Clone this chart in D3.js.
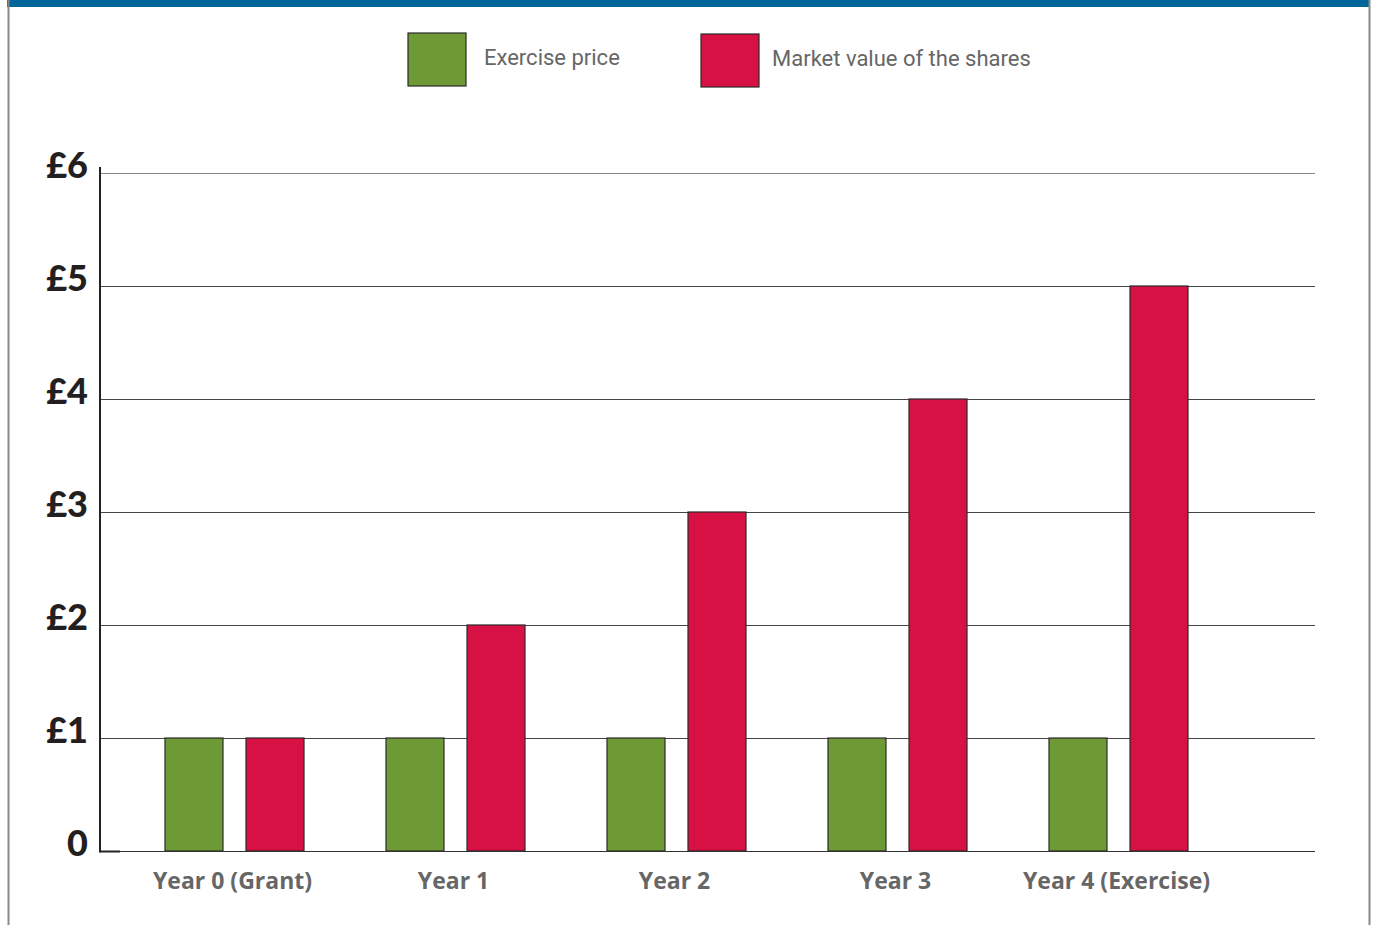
<!DOCTYPE html>
<html><head><meta charset="utf-8">
<script src="https://cdn.jsdelivr.net/npm/d3@7"></script>
<style>html,body{margin:0;padding:0;background:#fff;}svg{display:block;}</style>
</head><body>
<svg id="chart" width="1375" height="925"></svg>
<script>
const categories = ["Year 0 (Grant)", "Year 1", "Year 2", "Year 3", "Year 4 (Exercise)"];
const exercisePrice = [1, 1, 1, 1, 1];
const marketValue = [1, 2, 3, 4, 5];
const seriesNames = ["Exercise price", "Market value of the shares"];
const yTickValues = [0, 1, 2, 3, 4, 5, 6];
const yTickLabels = ["0", "£1", "£2", "£3", "£4", "£5", "£6"];
const colors = ["#6e9a35", "#d81145"];

const svg = d3.select("#chart");
const rows = categories.map((c, i) => ({cat: c, vals: [exercisePrice[i], marketValue[i]]}));

// frame
svg.append("rect").attr("x", 7).attr("y", 0).attr("width", 1363).attr("height", 7).attr("fill", "#006699");
svg.append("line").attr("x1", 8.5).attr("x2", 8.5).attr("y1", 0).attr("y2", 925).attr("stroke", "#888").attr("stroke-width", 2);
svg.append("line").attr("x1", 1369.5).attr("x2", 1369.5).attr("y1", 0).attr("y2", 925).attr("stroke", "#888").attr("stroke-width", 2);

const y = d3.scaleLinear().domain([0, 6]).range([851, 173]);
const x0 = d3.scaleBand().domain(categories).range([124, 1229]).paddingInner(0.371).paddingOuter(0.1855);
const x1 = d3.scaleBand().domain([0, 1]).range([0, x0.bandwidth()]).paddingInner(0.284);

// gridlines
svg.append("g").selectAll("line").data(yTickValues.filter(v => v > 0)).join("line")
  .attr("x1", 100).attr("x2", 1315)
  .attr("y1", d => Math.round(y(d)) + 0.5).attr("y2", d => Math.round(y(d)) + 0.5)
  .attr("stroke", d => d === 6 ? "#888" : "#444").attr("stroke-width", 1);

// bars
const g = svg.append("g").selectAll("g").data(rows).join("g")
  .attr("transform", d => `translate(${x0(d.cat)},0)`);
g.selectAll("rect").data(d => d.vals.map((v, k) => ({v, k}))).join("rect")
  .attr("x", d => x1(d.k)).attr("width", x1.bandwidth())
  .attr("y", d => y(d.v)).attr("height", d => y(0) - y(d.v))
  .attr("fill", d => colors[d.k]).attr("stroke", "#2a2a2a").attr("stroke-width", 1.2);

// baseline
svg.append("line").attr("x1", 100).attr("x2", 1315).attr("y1", 851.5).attr("y2", 851.5).attr("stroke", "#333").attr("stroke-width", 1.2);
svg.append("line").attr("x1", 100).attr("x2", 120).attr("y1", 851.5).attr("y2", 851.5).attr("stroke", "#222").attr("stroke-width", 2);
// y axis line
svg.append("line").attr("x1", 100).attr("x2", 100).attr("y1", 167).attr("y2", 852.5).attr("stroke", "#222").attr("stroke-width", 2);

// y tick labels
svg.append("g").selectAll("text").data(yTickValues).join("text")
  .attr("x", 88).attr("y", d => y(d) + 5)
  .attr("text-anchor", "end")
  .attr("font-family", "Lato, 'Open Sans', sans-serif").attr("font-weight", 900)
  .attr("font-size", 36).attr("fill", "#231f20")
  .text((d, i) => yTickLabels[i]);

// x labels
svg.append("g").selectAll("text").data(categories).join("text")
  .attr("x", d => x0(d) + x0.bandwidth() / 2 - 2).attr("y", 889)
  .attr("text-anchor", "middle")
  .attr("font-family", "'Open Sans', Lato, sans-serif").attr("font-weight", 700)
  .attr("font-size", 23).attr("fill", "#666")
  .text(d => d);

// legend
const legendX = [408, 701];
const lg = svg.append("g").selectAll("g").data(seriesNames).join("g")
  .attr("transform", (d, i) => `translate(${legendX[i]},${33 + i})`);
lg.append("rect").attr("width", 58).attr("height", 53)
  .attr("fill", (d, i) => colors[i]).attr("stroke", "#2a2a2a").attr("stroke-width", 1.2);
lg.append("text").attr("x", (d, i) => i === 0 ? 76 : 71).attr("y", 32)
  .attr("font-family", "Roboto, 'Open Sans', sans-serif").attr("font-size", 22).attr("fill", "#666")
  .text(d => d);
</script>
</body></html>
